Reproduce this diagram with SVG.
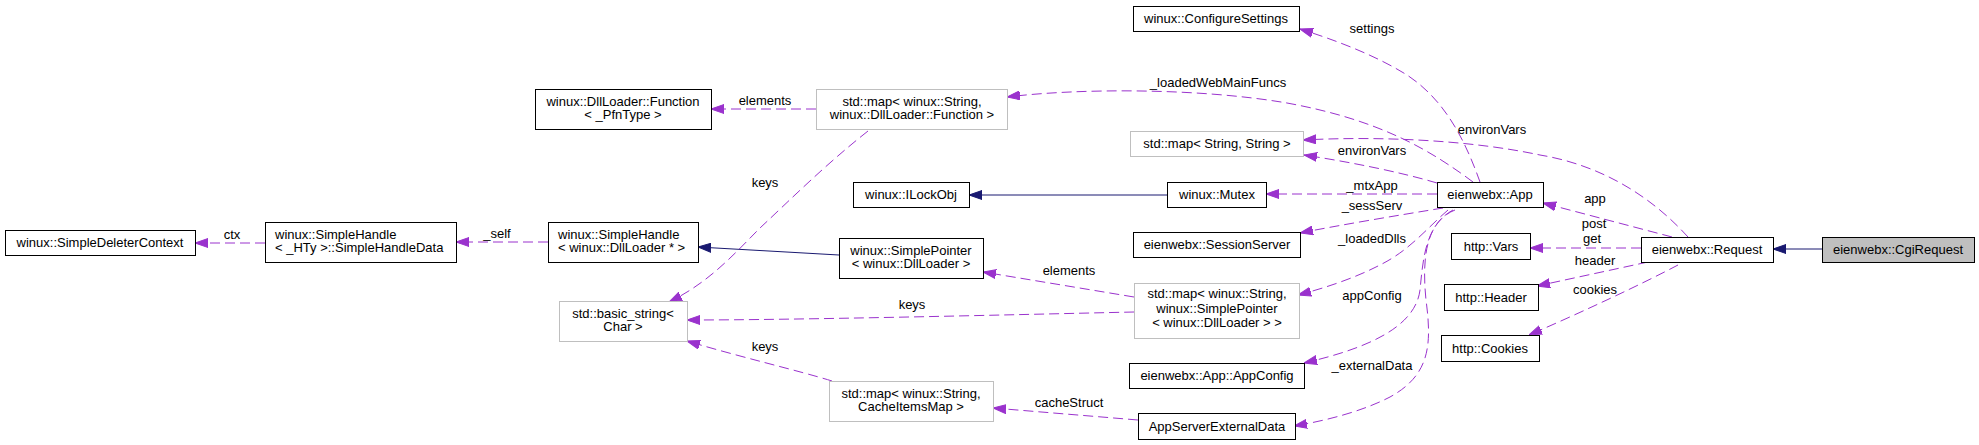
<svg xmlns="http://www.w3.org/2000/svg" width="1979" height="445" viewBox="0 0 1979 445">
<style>
text{font-family:"Liberation Sans",Arial,Helvetica,sans-serif;font-size:13px;fill:#000}
.c{text-anchor:middle}
.n rect{fill:#fff;stroke:#000;stroke-width:1}
.g rect{fill:#fff;stroke:#bfbfbf;stroke-width:1}
.sel rect{fill:#bfbfbf;stroke:#000;stroke-width:1}
.e{fill:none;stroke:#9a32cd;stroke-width:1;stroke-dasharray:10,5;marker-end:url(#ap)}
.i{fill:none;stroke:#191970;stroke-width:1;marker-end:url(#an)}
</style>
<defs>
<marker id="ap" viewBox="0 0 13 10" refX="13" refY="5" markerWidth="13" markerHeight="10" markerUnits="userSpaceOnUse" orient="auto"><path d="M0,0.5 L13,5 L0,9.5 z" fill="#9a32cd" stroke="#9a32cd" stroke-dasharray="none"/></marker>
<marker id="an" viewBox="0 0 13 10" refX="13" refY="5" markerWidth="13" markerHeight="10" markerUnits="userSpaceOnUse" orient="auto"><path d="M0,0.5 L13,5 L0,9.5 z" fill="#191970" stroke="#191970" stroke-dasharray="none"/></marker>
</defs>
<rect width="1979" height="445" fill="#fff"/>
<g id="edges">
<path class="e" d="M265,243 L195,243"/><text class="c" x="232" y="239">ctx</text>
<path class="e" d="M548,242 L456,242"/><text class="c" x="497" y="238">_self</text>
<path class="e" d="M816,109 L711,109"/><text class="c" x="765" y="105">elements</text>
<path class="e" d="M868,131 C825,165 790,200 760,228 C735,253 710,282 669,302"/><text class="c" x="765" y="187">keys</text>
<path class="i" d="M839,255 L698,247"/>
<path class="e" d="M1134,297 L983,272"/><text class="c" x="1069" y="275">elements</text>
<path class="e" d="M1134,312 C1000,315 800,320 687,320"/><text class="c" x="912" y="309">keys</text>
<path class="e" d="M832,381 C800,371 740,357 687,341"/><text class="c" x="765" y="351">keys</text>
<path class="e" d="M1138,420 L993,408"/><text class="c" x="1069" y="407">cacheStruct</text>
<path class="i" d="M1167,195 L969,195"/>
<path class="e" d="M1480,182 C1465,140 1445,100 1407,75 C1375,55 1335,40 1300,29"/><text class="c" x="1372" y="33">settings</text>
<path class="e" d="M1473,182 C1430,150 1380,120 1287,103 C1200,88 1080,88 1007,97"/><text class="c" x="1218" y="87">_loadedWebMainFuncs</text>
<path class="e" d="M1437,183 C1400,172 1350,162 1304,155"/><text class="c" x="1372" y="155">environVars</text>
<path class="e" d="M1688,237 C1650,195 1600,165 1540,155 C1470,140 1380,136 1303,140"/><text class="c" x="1492" y="134">environVars</text>
<path class="e" d="M1437,194 L1266,194"/><text class="c" x="1372" y="190">_mtxApp</text>
<path class="e" d="M1443,208 C1400,215 1340,225 1300,233"/><text class="c" x="1372" y="210">_sessServ</text>
<path class="e" d="M1448,210 C1425,230 1410,250 1380,265 C1355,278 1325,288 1298,295"/><text class="c" x="1372" y="243">_loadedDlls</text>
<path class="e" d="M1453,210 C1425,225 1423,260 1420,290 C1415,330 1360,350 1304,363"/><text class="c" x="1372" y="300">appConfig</text>
<path class="e" d="M1455,210 C1425,222 1422,260 1426,300 C1432,345 1430,375 1390,397 C1365,410 1330,420 1294,426"/><text class="c" x="1372" y="370">_externalData</text>
<path class="e" d="M1672,237 L1543,203"/><text class="c" x="1595" y="203">app</text>
<path class="e" d="M1641,248 L1530,248"/><text class="c" x="1594" y="228">post</text><text class="c" x="1592" y="243">get</text>
<path class="e" d="M1648,262 L1537,286"/><text class="c" x="1595" y="265">header</text>
<path class="e" d="M1678,265 C1640,285 1580,313 1529,335"/><text class="c" x="1595" y="294">cookies</text>
<path class="i" d="M1822,249 L1773,249"/>
</g>
<g id="node-SimpleDeleterContext" class="n"><rect x="5.5" y="230.5" width="190" height="25"/><text class="c" x="100" y="247">winux::SimpleDeleterContext</text></g>
<g id="node-SimpleHandleData" class="n"><rect x="265.5" y="222.5" width="191" height="40"/><text x="275" y="239">winux::SimpleHandle</text><text x="275" y="252">&lt; _HTy &gt;::SimpleHandleData</text></g>
<g id="node-SimpleHandle" class="n"><rect x="548.5" y="222.5" width="150" height="40"/><text x="558" y="239">winux::SimpleHandle</text><text x="558" y="252">&lt; winux::DllLoader * &gt;</text></g>
<g id="node-DllLoaderFunction" class="n"><rect x="535.5" y="89.5" width="176" height="40"/><text class="c" x="623" y="106">winux::DllLoader::Function</text><text class="c" x="623" y="119">&lt; _PfnType &gt;</text></g>
<g id="node-MapFunction" class="g"><rect x="816.5" y="89.5" width="191" height="40"/><text class="c" x="912" y="106">std::map&lt; winux::String,</text><text class="c" x="912" y="119">winux::DllLoader::Function &gt;</text></g>
<g id="node-BasicString" class="g"><rect x="559.5" y="301.5" width="128" height="40"/><text class="c" x="623" y="318">std::basic_string&lt;</text><text class="c" x="623" y="331">Char &gt;</text></g>
<g id="node-ILockObj" class="n"><rect x="853.5" y="182.5" width="116" height="25"/><text class="c" x="911" y="199">winux::ILockObj</text></g>
<g id="node-SimplePointer" class="n"><rect x="839.5" y="238.5" width="144" height="40"/><text class="c" x="911" y="255">winux::SimplePointer</text><text class="c" x="911" y="268">&lt; winux::DllLoader &gt;</text></g>
<g id="node-MapCache" class="g"><rect x="829.5" y="381.5" width="164" height="40"/><text class="c" x="911" y="398">std::map&lt; winux::String,</text><text class="c" x="911" y="411">CacheItemsMap &gt;</text></g>
<g id="node-ConfigureSettings" class="n"><rect x="1133.5" y="6.5" width="166" height="25"/><text class="c" x="1216" y="23">winux::ConfigureSettings</text></g>
<g id="node-MapStringString" class="g"><rect x="1130.5" y="131.5" width="173" height="25"/><text class="c" x="1217" y="148">std::map&lt; String, String &gt;</text></g>
<g id="node-Mutex" class="n"><rect x="1167.5" y="182.5" width="99" height="25"/><text class="c" x="1217" y="199">winux::Mutex</text></g>
<g id="node-SessionServer" class="n"><rect x="1133.5" y="232.5" width="167" height="25"/><text class="c" x="1217" y="249">eienwebx::SessionServer</text></g>
<g id="node-MapSimplePointer" class="g"><rect x="1134.5" y="283.5" width="165" height="55"/><text class="c" x="1217" y="298">std::map&lt; winux::String,</text><text class="c" x="1217" y="313">winux::SimplePointer</text><text class="c" x="1217" y="327">&lt; winux::DllLoader &gt; &gt;</text></g>
<g id="node-AppConfig" class="n"><rect x="1129.5" y="363.5" width="175" height="25"/><text class="c" x="1217" y="380">eienwebx::App::AppConfig</text></g>
<g id="node-AppServerExternalData" class="n"><rect x="1138.5" y="413.5" width="157" height="26"/><text class="c" x="1217" y="431">AppServerExternalData</text></g>
<g id="node-App" class="n"><rect x="1437.5" y="182.5" width="106" height="25"/><text class="c" x="1490" y="199">eienwebx::App</text></g>
<g id="node-Vars" class="n"><rect x="1451.5" y="233.5" width="79" height="26"/><text class="c" x="1491" y="251">http::Vars</text></g>
<g id="node-Header" class="n"><rect x="1444.5" y="284.5" width="94" height="26"/><text class="c" x="1491" y="302">http::Header</text></g>
<g id="node-Cookies" class="n"><rect x="1441.5" y="335.5" width="98" height="26"/><text class="c" x="1490" y="353">http::Cookies</text></g>
<g id="node-Request" class="n"><rect x="1641.5" y="237.5" width="132" height="25"/><text class="c" x="1707" y="254">eienwebx::Request</text></g>
<g id="node-CgiRequest" class="sel"><rect x="1822.5" y="237.5" width="152" height="25"/><text class="c" x="1898" y="254">eienwebx::CgiRequest</text></g>
</svg>
